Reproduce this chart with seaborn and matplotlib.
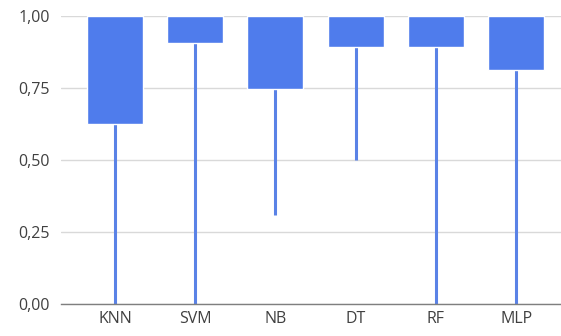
import matplotlib
matplotlib.use("Agg")
import matplotlib.pyplot as plt
import seaborn as sns
import pandas as pd

models = ['KNN', 'SVM', 'NB', 'DT', 'RF', 'MLP']
box_top = [1.00, 1.00, 1.00, 1.00, 1.00, 1.00]
box_low = [0.625, 0.905, 0.745, 0.893, 0.893, 0.8125]
whisker_min = [0.00, 0.00, 0.31, 0.50, 0.00, 0.00]
y_ticks = [0.0, 0.25, 0.5, 0.75, 1.0]
y_tick_labels = ['0,00', '0,25', '0,50', '0,75', '1,00']

blue = '#4F7CEC'
whisker_blue = '#5A82E6'

sns.set_theme(style='white')
plt.rcParams['font.family'] = ['Open Sans', 'DejaVu Sans']

df = pd.DataFrame({'model': models, 'top': box_top, 'low': box_low,
                   'min': whisker_min})
df['drop'] = df['low'] - df['top']

fig, ax = plt.subplots(figsize=(5.61, 3.36), dpi=100)
fig.subplots_adjust(left=61 / 561, right=1.0, top=1 - 16 / 336,
                    bottom=1 - 304 / 336)

# whiskers behind the boxes
ax.vlines(range(len(models)), df['min'], df['low'], color=whisker_blue,
          linewidth=2.2, zorder=2)

# boxes hang from the top value down to the lower quartile
sns.barplot(data=df, x='model', y='drop', bottom=1.0, color=blue,
            saturation=1, width=0.7, errorbar=None, ax=ax, zorder=3)

ax.set_ylim(0, 1.0)
ax.set_xlim(-0.673, 5.56)
ax.set_yticks(y_ticks)
ax.set_yticklabels(y_tick_labels)
ax.set_xlabel('')
ax.set_ylabel('')
ax.grid(axis='y', color='#d9d9d9', linewidth=1.0, zorder=0)
ax.set_axisbelow(True)
for side in ['top', 'right', 'left']:
    ax.spines[side].set_visible(False)
ax.spines['bottom'].set_color('#7f7f7f')
ax.spines['bottom'].set_linewidth(1.0)
ax.spines['bottom'].set_zorder(4)
ax.tick_params(axis='both', length=0, labelsize=11.5, colors='#404040')
ax.tick_params(axis='y', pad=8)
ax.tick_params(axis='x', pad=5)

fig.savefig('out.png', dpi=100)
